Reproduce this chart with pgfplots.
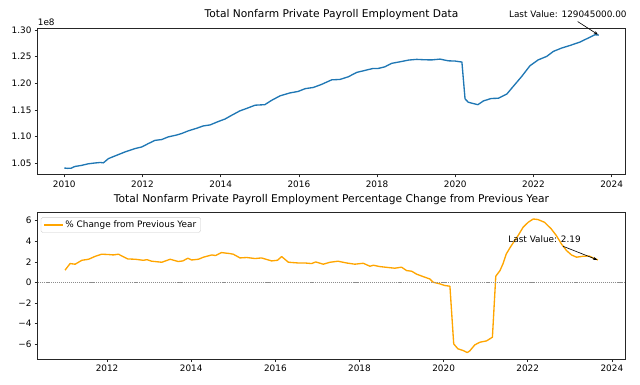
\documentclass[border=0pt]{standalone}
\usepackage{fontspec}
\setmainfont{DejaVu Sans}
\usepackage{pgfplots}
\pgfplotsset{compat=1.18}
\usetikzlibrary{arrows.meta}
\definecolor{mplblue}{HTML}{1F77B4}
\definecolor{mplorange}{HTML}{FFA500}
\pgfplotsset{mpl/.style={
  scale only axis, width=661.1pt,
  axis line style={black!85, line width=0.8pt},
  tick align=outside, major tick length=3.5pt,
  tick style={black!85, line width=0.8pt},
  xtick pos=bottom, ytick pos=left,
  tick label style={font=\fontsize{10}{12}\selectfont},
  title style={font=\fontsize{12}{14}\selectfont, anchor=base, at={(0.5,1)}, yshift=6pt},
  clip=false,
  /pgf/number format/assume math mode=true,
}}
\begin{document}
\begin{tikzpicture}
\path[use as bounding box] (0,0) rectangle (720pt,432pt);
% ---------------- top axis
\begin{axis}[mpl, at={(42.4pt,235.9pt)}, anchor=south west, height=164.2pt,
  xmin=2009.32, xmax=2024.35, ymin=1.0293, ymax=1.3032,
  xtick={2010,2012,2014,2016,2018,2020,2022,2024},
  xticklabels={2010,2012,2014,2016,2018,2020,2022,2024},
  ytick={1.05,1.10,1.15,1.20,1.25,1.30},
  yticklabels={1.05,1.10,1.15,1.20,1.25,1.30},
  title={Total Nonfarm Private Payroll Employment Data}]
\addplot[mplblue, line width=1.5pt, line join=round] coordinates {
(2010.00,1.0412) (2010.08,1.0405) (2010.17,1.0406) (2010.27,1.0440) (2010.44,1.0460)
(2010.61,1.0490) (2010.79,1.0506) (2010.92,1.0515) (2011.00,1.0508) (2011.13,1.0588)
(2011.34,1.0650) (2011.55,1.0712) (2011.81,1.0776) (2011.98,1.0806) (2012.15,1.0870)
(2012.32,1.0930) (2012.49,1.0945) (2012.66,1.0995) (2012.87,1.1030) (2013.00,1.1058)
(2013.17,1.1108) (2013.39,1.1158) (2013.55,1.1200) (2013.73,1.1220) (2013.94,1.1284)
(2014.11,1.1330) (2014.28,1.1400) (2014.49,1.1483) (2014.66,1.1528) (2014.88,1.1590)
(2015.13,1.1600) (2015.30,1.1680) (2015.52,1.1766) (2015.77,1.1820) (2015.98,1.1848)
(2016.16,1.1900) (2016.37,1.1923) (2016.58,1.1980) (2016.84,1.2066) (2017.05,1.2073)
(2017.26,1.2122) (2017.48,1.2205) (2017.69,1.2243) (2017.90,1.2280) (2018.03,1.2280)
(2018.20,1.2310) (2018.37,1.2375) (2018.59,1.2405) (2018.80,1.2436) (2019.01,1.2450)
(2019.23,1.2442) (2019.40,1.2440) (2019.61,1.2455) (2019.82,1.2423) (2020.00,1.2418)
(2020.17,1.2400) (2020.25,1.1710) (2020.33,1.1647) (2020.42,1.1628) (2020.58,1.1600)
(2020.72,1.1670) (2020.92,1.1716) (2021.10,1.1720) (2021.32,1.1800) (2021.48,1.1940)
(2021.70,1.2130) (2021.91,1.2330) (2022.12,1.2440) (2022.34,1.2506) (2022.51,1.2600)
(2022.72,1.2662) (2022.94,1.2712) (2023.19,1.2775) (2023.40,1.2850) (2023.57,1.2912)
(2023.67,1.29045)};
\node[anchor=base, font=\fontsize{10}{12}\selectfont] at (axis cs:2022.88,1.3235) {Last Value: 129045000.00};
\draw[line width=0.7pt, -{Stealth[length=4.5pt,width=3.5pt]}] (axis cs:2023.13,1.3160) -- (axis cs:2023.65,1.2915);
\node[anchor=base west, font=\fontsize{10}{12}\selectfont, inner sep=0pt] at ([yshift=3pt]rel axis cs:0,1) {1e8};
\end{axis}
% ---------------- bottom axis
\begin{axis}[mpl, at={(42.4pt,28.1pt)}, anchor=south west, height=164.6pt,
  xmin=2010.35, xmax=2024.32, ymin=-7.43, ymax=6.78,
  xtick={2012,2014,2016,2018,2020,2022,2024},
  xticklabels={2012,2014,2016,2018,2020,2022,2024},
  ytick={-6,-4,-2,0,2,4,6},
  yticklabels={−6,−4,−2,0,2,4,6},
  title={Total Nonfarm Private Payroll Employment Percentage Change from Previous Year},
  legend style={at={(0,1)}, anchor=north west, xshift=3.5pt, yshift=-5pt,
    draw=black!20, rounded corners=2pt, fill=white,
    font=\fontsize{10}{12}\selectfont, inner xsep=3pt, inner ysep=2pt,
    cells={anchor=west}},
  legend image code/.code={\draw[mplorange, line width=1.5pt] (0pt,0pt) -- (21pt,0pt);}]
\addplot[mplorange, line width=1.5pt, line join=round] coordinates {
(2011.00,1.20) (2011.12,1.84) (2011.24,1.78) (2011.40,2.16) (2011.56,2.26)
(2011.72,2.55) (2011.87,2.75) (2012.03,2.72) (2012.15,2.68) (2012.27,2.75)
(2012.49,2.29) (2012.67,2.26) (2012.86,2.16) (2012.95,2.22) (2013.06,2.07)
(2013.30,1.97) (2013.50,2.26) (2013.69,2.04) (2013.80,2.10) (2013.92,2.36)
(2014.01,2.19) (2014.17,2.26) (2014.29,2.46) (2014.49,2.68) (2014.58,2.62)
(2014.72,2.91) (2014.92,2.81) (2015.00,2.75) (2015.16,2.39) (2015.32,2.43)
(2015.52,2.33) (2015.67,2.39) (2015.91,2.10) (2016.05,2.16) (2016.15,2.52)
(2016.31,1.97) (2016.54,1.90) (2016.70,1.90) (2016.86,1.84) (2016.96,2.00)
(2017.14,1.78) (2017.30,1.97) (2017.49,2.07) (2017.69,1.90) (2017.89,1.78)
(2018.09,1.87) (2018.25,1.58) (2018.33,1.68) (2018.48,1.55) (2018.68,1.46)
(2018.84,1.39) (2019.00,1.49) (2019.12,1.16) (2019.24,1.10) (2019.36,0.81)
(2019.51,0.58) (2019.67,0.35) (2019.75,0.03) (2019.91,-0.13) (2020.03,-0.29)
(2020.15,-0.36) (2020.24,-5.96) (2020.34,-6.44) (2020.46,-6.60) (2020.56,-6.80)
(2020.62,-6.65) (2020.74,-6.06) (2020.86,-5.80) (2021.02,-5.67) (2021.16,-5.31)
(2021.24,0.61) (2021.34,1.16) (2021.41,1.81) (2021.49,2.78) (2021.61,3.59)
(2021.77,4.56) (2021.89,5.37) (2022.01,5.85) (2022.13,6.17) (2022.24,6.12)
(2022.40,5.85) (2022.56,5.20) (2022.68,4.56) (2022.80,3.75) (2022.92,3.11)
(2023.04,2.68) (2023.16,2.46) (2023.31,2.55) (2023.46,2.58) (2023.55,2.39)
(2023.67,2.19)};
\addlegendentry{\% Change from Previous Year}
\addplot[forget plot, black!45, line width=0.5pt, dash pattern=on 1.2pt off 1pt] coordinates {(2010.35,0) (2024.32,0)};
\node[anchor=base, font=\fontsize{10}{12}\selectfont] at (axis cs:2022.40,3.92) {Last Value: 2.19};
\draw[line width=0.7pt, -{Stealth[length=4.5pt,width=3.5pt]}] (axis cs:2022.84,3.52) -- (axis cs:2023.65,2.21);
\end{axis}
\end{tikzpicture}
\end{document}
